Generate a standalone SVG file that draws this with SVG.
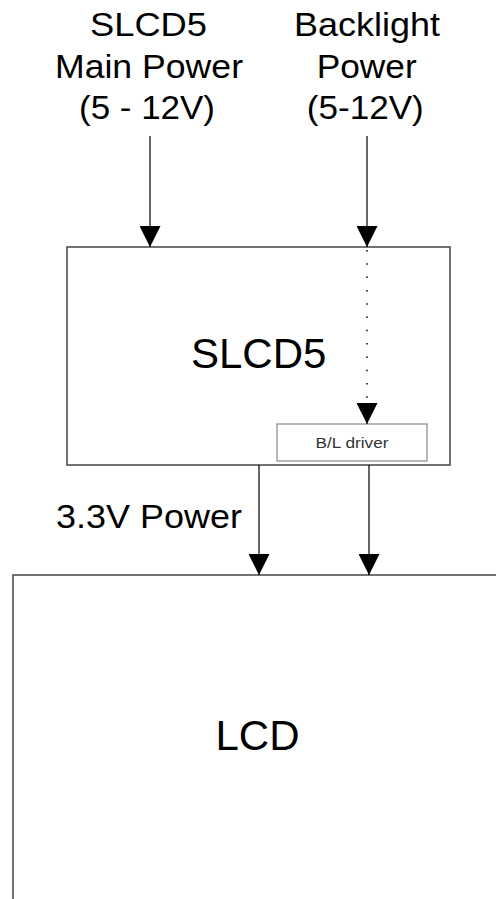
<svg xmlns="http://www.w3.org/2000/svg" width="496" height="899" viewBox="0 0 496 899">
<style>
text{font-family:"Liberation Sans",Arial,sans-serif;fill:#000;text-anchor:middle}
.lbl{font-size:33px}
.big{font-size:42px}
.small{font-size:14.5px;fill:#333}
.box{fill:#fff;stroke:#444;stroke-width:1.5}
.sub{fill:#fff;stroke:#888;stroke-width:1.2}
.wire{stroke:#000;stroke-width:1.2;fill:none}
.dot{stroke:#000;stroke-width:1.5;fill:none;stroke-dasharray:1.5 11.8}
</style>
<defs>
<marker id="ah" viewBox="0 0 21 20" refX="21" refY="10.5" markerWidth="21" markerHeight="21" markerUnits="userSpaceOnUse" orient="auto">
<path d="M0,0 L21,10.5 L0,21 z" fill="#000"/>
</marker>
</defs>
<g id="main-power-label">
<text class="lbl" x="148.5" y="36" textLength="117" lengthAdjust="spacingAndGlyphs">SLCD5</text>
<text class="lbl" x="149" y="78" textLength="188" lengthAdjust="spacingAndGlyphs">Main Power</text>
<text class="lbl" x="147" y="119" textLength="136" lengthAdjust="spacingAndGlyphs">(5 - 12V)</text>
</g>
<g id="backlight-power-label">
<text class="lbl" x="367" y="36" textLength="146" lengthAdjust="spacingAndGlyphs">Backlight</text>
<text class="lbl" x="366.7" y="78" textLength="100" lengthAdjust="spacingAndGlyphs">Power</text>
<text class="lbl" x="365.3" y="119" textLength="117" lengthAdjust="spacingAndGlyphs">(5-12V)</text>
</g>
<g id="lcd">
<path class="box" d="M497,575 L13,575 L13,900"/>
<text class="big" x="257.5" y="750">LCD</text>
</g>
<g id="slcd5">
<rect class="box" x="67" y="247" width="383" height="218"/>
<text class="big" x="258.7" y="368">SLCD5</text>
</g>
<g id="bl-driver">
<rect class="sub" x="277" y="424" width="150" height="37"/>
<text class="small" x="352" y="447.5" textLength="73" lengthAdjust="spacingAndGlyphs">B/L driver</text>
</g>
<g id="connectors">
<line class="wire" x1="150" y1="136" x2="150" y2="247" marker-end="url(#ah)"/>
<line class="wire" x1="367" y1="136" x2="367" y2="247" marker-end="url(#ah)"/>
<line class="dot" x1="367" y1="250" x2="367" y2="404"/>
<line class="wire" x1="367" y1="403" x2="367" y2="424" stroke-width="0" marker-end="url(#ah)"/>
<line class="wire" x1="259" y1="465" x2="259" y2="575" marker-end="url(#ah)"/>
<line class="wire" x1="369" y1="465" x2="369" y2="575" marker-end="url(#ah)"/>
<text class="lbl" x="149" y="527.5" textLength="186" lengthAdjust="spacingAndGlyphs">3.3V Power</text>
</g>
</svg>
